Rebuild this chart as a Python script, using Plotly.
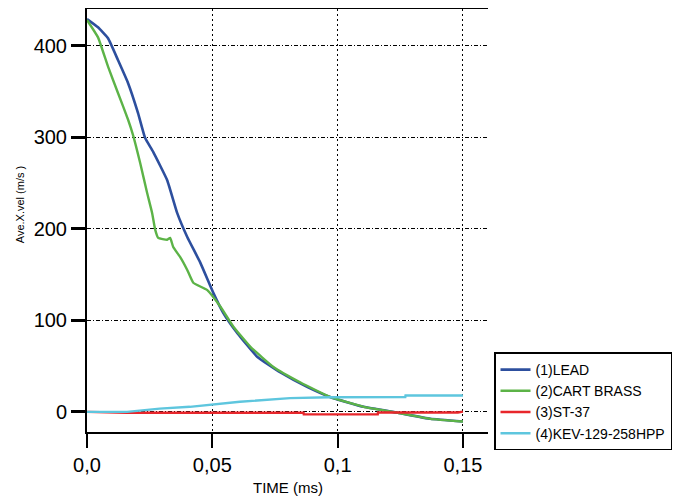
import plotly.graph_objects as go

# ---- data (time in ms, velocity in m/s) ----
lead_t = [0, 0.0044, 0.0084, 0.0124, 0.0164, 0.0204, 0.0232, 0.0264, 0.032, 0.036, 0.040,
          0.0452, 0.0504, 0.0544, 0.060, 0.068, 0.0772, 0.088, 0.0972, 0.1104,
          0.124, 0.137, 0.150]
lead_v = [429, 420, 408, 384, 359, 326, 299, 284, 253, 217, 191,
          163, 130, 108, 86, 60, 43, 27, 16, 5.5,
          -1, -7.6, -10.5]

brass_t = [0, 0.0044, 0.0084, 0.0124, 0.0164, 0.0184, 0.0212, 0.024, 0.026, 0.0272, 0.0284,
           0.032, 0.0332, 0.0344, 0.0372, 0.040, 0.0424, 0.048, 0.0532, 0.0584, 0.0652,
           0.0744, 0.0852, 0.0972, 0.1104, 0.124, 0.137, 0.150]
brass_v = [428, 409, 377, 348, 319, 302, 272, 239, 217, 199, 190,
           188, 190, 180, 169, 155, 141, 133, 115, 93, 71,
           49, 32, 16, 5.5, -1, -7.6, -10.5]

st37_t = [0, 0.016, 0.0864, 0.0865, 0.116, 0.1161, 0.148, 0.150]
st37_v = [0, -1, -1, -2.8, -2.8, -0.7, -0.7, 0.3]

kev_t = [0, 0.016, 0.029, 0.041, 0.061, 0.081, 0.097, 0.127, 0.1271, 0.150]
kev_v = [0, 0, 3.5, 5.5, 11, 15, 16, 16.2, 17.8, 17.8]

x_ticks = [0, 0.05, 0.1, 0.15]
x_ticklabels = ["0,0", "0,05", "0,1", "0,15"]
y_ticks = [0, 100, 200, 300, 400]

series = [
    ("(1)LEAD", lead_t, lead_v, "#2d4f9e", 2.6, "spline"),
    ("(2)CART BRASS", brass_t, brass_v, "#5cb347", 2.4, "spline"),
    ("(3)ST-37", st37_t, st37_v, "#e8262b", 2.4, "linear"),
    ("(4)KEV-129-258HPP", kev_t, kev_v, "#5ec6de", 2.4, "linear"),
]

fig = go.Figure()
for name, t, v, col, w, shp in series:
    line = dict(color=col, width=w, shape=shp)
    if shp == "spline":
        line["smoothing"] = 0.35
    fig.add_trace(go.Scatter(x=t, y=v, mode="lines", name=name, line=line))

font = "Liberation Sans, Arial, sans-serif"
fig.update_layout(
    width=688, height=492,
    margin=dict(l=79, r=208, t=1, b=68, autoexpand=False),
    paper_bgcolor="white", plot_bgcolor="white",
    font=dict(family=font, color="black"),
    showlegend=True,
    legend=dict(x=1.015, y=0.188, xanchor="left", yanchor="top",
                bordercolor="black", borderwidth=1.5, bgcolor="white",
                font=dict(size=14, family=font), tracegroupgap=0,
                itemwidth=30),
    xaxis=dict(range=[0, 0.16], tickvals=x_ticks, ticktext=x_ticklabels,
               showline=True, linecolor="black", linewidth=2, mirror=True,
               ticks="outside", ticklen=14, tickwidth=2, tickcolor="black",
               tickfont=dict(size=20), showgrid=True, gridcolor="black",
               gridwidth=1, griddash="2px,3px", zeroline=False),
    yaxis=dict(range=[-22, 440], tickvals=y_ticks,
               showline=True, linecolor="black", linewidth=2,
               ticks="outside", ticklen=14, tickwidth=3, tickcolor="black",
               tickfont=dict(size=20), showgrid=True, gridcolor="black",
               gridwidth=1, griddash="4px,2px,1px,2px", zeroline=False),
    annotations=[
        dict(text="TIME (ms)", xref="paper", yref="paper", x=0.5, y=-0.132,
             xanchor="center", yanchor="middle", showarrow=False,
             font=dict(size=15, family=font)),
        dict(text="Ave.X.vel (m/s )", xref="paper", yref="paper", x=-0.165,
             y=0.538, xanchor="center", yanchor="middle", showarrow=False,
             textangle=-90, font=dict(size=11, family=font)),
    ],
)

fig.write_html("out.html")
